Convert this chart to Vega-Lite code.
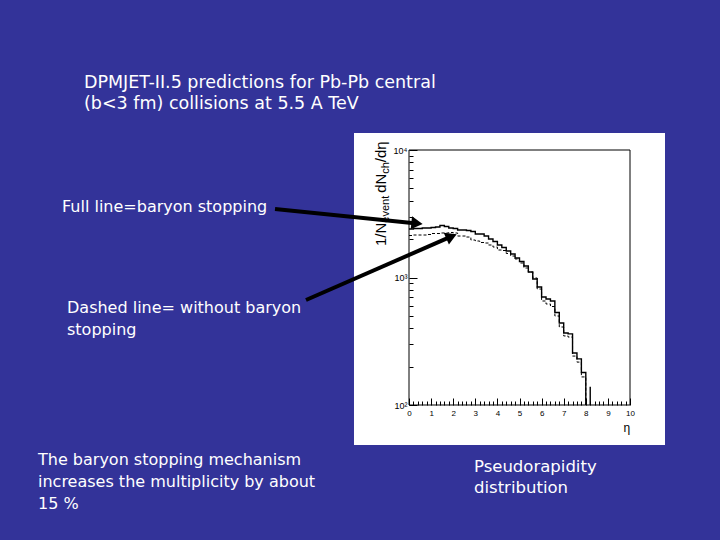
{
  "$schema": "https://vega.github.io/schema/vega-lite/v6.json",
  "width": 221,
  "height": 255,
  "autosize": "none",
  "padding": {"left": 409, "top": 150, "right": 90, "bottom": 135},
  "background": "#333399",
  "view": {"stroke": null, "fill": null},
  "config": {"font": "Liberation Sans"},
  "datasets": {
    "full": [
      {"i": 0, "eta": 0.0, "dndeta": 2401}, {"i": 1, "eta": 0.2, "dndeta": 2423}, {"i": 2, "eta": 0.4, "dndeta": 2423},
      {"i": 3, "eta": 0.6, "dndeta": 2445}, {"i": 4, "eta": 0.8, "dndeta": 2445}, {"i": 5, "eta": 1.0, "dndeta": 2467},
      {"i": 6, "eta": 1.2, "dndeta": 2489}, {"i": 7, "eta": 1.4, "dndeta": 2557}, {"i": 8, "eta": 1.6, "dndeta": 2512},
      {"i": 9, "eta": 1.8, "dndeta": 2445}, {"i": 10, "eta": 2.0, "dndeta": 2423}, {"i": 11, "eta": 2.2, "dndeta": 2358},
      {"i": 12, "eta": 2.4, "dndeta": 2358}, {"i": 13, "eta": 2.6, "dndeta": 2337}, {"i": 14, "eta": 2.8, "dndeta": 2296},
      {"i": 15, "eta": 3.0, "dndeta": 2193}, {"i": 16, "eta": 3.2, "dndeta": 2193}, {"i": 17, "eta": 3.4, "dndeta": 2115},
      {"i": 18, "eta": 3.6, "dndeta": 2004}, {"i": 19, "eta": 3.8, "dndeta": 1916}, {"i": 20, "eta": 4.0, "dndeta": 1798},
      {"i": 21, "eta": 4.2, "dndeta": 1719}, {"i": 22, "eta": 4.4, "dndeta": 1614}, {"i": 23, "eta": 4.6, "dndeta": 1529},
      {"i": 24, "eta": 4.8, "dndeta": 1422}, {"i": 25, "eta": 5.0, "dndeta": 1335}, {"i": 26, "eta": 5.2, "dndeta": 1231},
      {"i": 27, "eta": 5.4, "dndeta": 1104}, {"i": 28, "eta": 5.6, "dndeta": 973}, {"i": 29, "eta": 5.8, "dndeta": 842},
      {"i": 30, "eta": 6.0, "dndeta": 703}, {"i": 31, "eta": 6.2, "dndeta": 678}, {"i": 32, "eta": 6.4, "dndeta": 654},
      {"i": 33, "eta": 6.6, "dndeta": 531}, {"i": 34, "eta": 6.8, "dndeta": 440}, {"i": 35, "eta": 7.0, "dndeta": 367},
      {"i": 36, "eta": 7.2, "dndeta": 361}, {"i": 37, "eta": 7.4, "dndeta": 256}, {"i": 38, "eta": 7.6, "dndeta": 230},
      {"i": 39, "eta": 7.8, "dndeta": 180}, {"i": 40, "eta": 8.0, "dndeta": 50}, {"i": 41, "eta": 8.2, "dndeta": 139},
      {"i": 42, "eta": 8.2, "dndeta": 50}, {"i": 43, "eta": 8.4, "dndeta": 50}
    ],
    "dashed": [
      {"eta": 0.0, "dndeta": 2135}, {"eta": 0.2, "dndeta": 2154}, {"eta": 0.4, "dndeta": 2154}, {"eta": 0.6, "dndeta": 2154},
      {"eta": 0.8, "dndeta": 2174}, {"eta": 1.0, "dndeta": 2214}, {"eta": 1.2, "dndeta": 2214}, {"eta": 1.4, "dndeta": 2234},
      {"eta": 1.6, "dndeta": 2234}, {"eta": 1.8, "dndeta": 2254}, {"eta": 2.0, "dndeta": 2234}, {"eta": 2.2, "dndeta": 2115},
      {"eta": 2.4, "dndeta": 2115}, {"eta": 2.6, "dndeta": 2077}, {"eta": 2.8, "dndeta": 1968}, {"eta": 3.0, "dndeta": 1933},
      {"eta": 3.2, "dndeta": 1881}, {"eta": 3.4, "dndeta": 1864}, {"eta": 3.6, "dndeta": 1798}, {"eta": 3.8, "dndeta": 1734},
      {"eta": 4.0, "dndeta": 1643}, {"eta": 4.2, "dndeta": 1628}, {"eta": 4.4, "dndeta": 1543}, {"eta": 4.6, "dndeta": 1474},
      {"eta": 4.8, "dndeta": 1397}, {"eta": 5.0, "dndeta": 1299}, {"eta": 5.2, "dndeta": 1187}, {"eta": 5.4, "dndeta": 1104},
      {"eta": 5.6, "dndeta": 991}, {"eta": 5.8, "dndeta": 812}, {"eta": 6.0, "dndeta": 654}, {"eta": 6.2, "dndeta": 620},
      {"eta": 6.4, "dndeta": 592}, {"eta": 6.6, "dndeta": 499}, {"eta": 6.8, "dndeta": 409}, {"eta": 7.0, "dndeta": 348},
      {"eta": 7.2, "dndeta": 341}, {"eta": 7.4, "dndeta": 242}, {"eta": 7.6, "dndeta": 217}, {"eta": 7.8, "dndeta": 166},
      {"eta": 8.0, "dndeta": 50}, {"eta": 8.2, "dndeta": 50}
    ]
  },
  "layer": [
    {
      "data": {"values": [{}]},
      "mark": {"type": "rect", "fill": "white", "strokeWidth": 0},
      "encoding": {
        "x": {"datum": -2.489, "type": "quantitative", "scale": {"domain": [0, 10], "nice": false, "zero": false}, "axis": null},
        "x2": {"datum": 11.584},
        "y": {"datum": 13592, "type": "quantitative", "scale": {"type": "log", "domain": [100, 10000], "nice": false}, "axis": null},
        "y2": {"datum": 48.57}
      }
    },
    {
      "data": {"values": [{}]},
      "mark": {"type": "rect", "fillOpacity": 0, "stroke": "black", "strokeWidth": 1},
      "encoding": {
        "x": {"datum": 0, "type": "quantitative", "scale": {"domain": [0, 10], "nice": false, "zero": false}, "axis": null},
        "x2": {"datum": 10},
        "y": {"datum": 100, "type": "quantitative", "scale": {"type": "log", "domain": [100, 10000], "nice": false}, "axis": null},
        "y2": {"datum": 10000}
      }
    },
    {
      "data": {"name": "full"},
      "mark": {"type": "line", "interpolate": "step-after", "color": "black", "strokeWidth": 1.4, "clip": true},
      "encoding": {
        "x": {"field": "eta", "type": "quantitative", "scale": {"domain": [0, 10], "nice": false, "zero": false},
          "axis": {"orient": "bottom", "values": [0, 1, 2, 3, 4, 5, 6, 7, 8, 9, 10], "tickSize": -7, "labelPadding": 11, "domain": false, "grid": false, "title": null, "labelFont": "Liberation Sans", "labelFontSize": 8, "labelColor": "black", "tickColor": "black", "tickWidth": 1, "zindex": 1, "labelAngle": 0, "labelFlush": false, "labelOverlap": false, "format": "d"}},
        "y": {"field": "dndeta", "type": "quantitative", "scale": {"type": "log", "domain": [100, 10000], "nice": false},
          "axis": {"orient": "left", "values": [100, 1000, 10000], "tickSize": -8, "labelPadding": 10, "domain": false, "grid": false, "title": null, "labelExpr": "datum.value == 100 ? '10²' : datum.value == 1000 ? '10³' : '10⁴'", "labelFont": "Liberation Sans", "labelFontSize": 9, "labelColor": "black", "tickColor": "black", "tickWidth": 1, "zindex": 1, "labelFlush": false, "labelOverlap": false}},
        "order": {"field": "i"}
      }
    },
    {
      "data": {"name": "dashed"},
      "mark": {"type": "line", "interpolate": "step-after", "color": "black", "strokeWidth": 1, "strokeDash": [3, 2], "clip": true},
      "encoding": {
        "x": {"field": "eta", "type": "quantitative", "scale": {"domain": [0, 10], "nice": false, "zero": false},
          "axis": {"orient": "bottom", "values": [0.2, 0.4, 0.6, 0.8, 1.2, 1.4, 1.6, 1.8, 2.2, 2.4, 2.6, 2.8, 3.2, 3.4, 3.6, 3.8, 4.2, 4.4, 4.6, 4.8, 5.2, 5.4, 5.6, 5.8, 6.2, 6.4, 6.6, 6.8, 7.2, 7.4, 7.6, 7.8, 8.2, 8.4, 8.6, 8.8, 9.2, 9.4, 9.6, 9.8], "tickSize": -4, "labels": false, "domain": false, "grid": false, "title": null, "tickColor": "black", "tickWidth": 1, "zindex": 1}},
        "y": {"field": "dndeta", "type": "quantitative", "scale": {"type": "log", "domain": [100, 10000], "nice": false},
          "axis": {"orient": "left", "values": [200, 300, 400, 500, 600, 700, 800, 900, 2000, 3000, 4000, 5000, 6000, 7000, 8000, 9000], "tickSize": -4, "labels": false, "domain": false, "grid": false, "title": null, "tickColor": "black", "tickWidth": 1, "zindex": 1}}
      }
    },
    {
      "data": {"values": [{}]},
      "mark": {"type": "rule", "color": "black", "strokeWidth": 4},
      "encoding": {
        "x": {"datum": -6.063, "type": "quantitative", "scale": {"domain": [0, 10], "nice": false, "zero": false}, "axis": null},
        "x2": {"datum": 0.362},
        "y": {"datum": 3446, "type": "quantitative", "scale": {"type": "log", "domain": [100, 10000], "nice": false}, "axis": null},
        "y2": {"datum": 2657}
      }
    },
    {
      "data": {"values": [{}]},
      "mark": {"type": "rule", "color": "black", "strokeWidth": 4},
      "encoding": {
        "x": {"datum": -4.661, "type": "quantitative", "scale": {"domain": [0, 10], "nice": false, "zero": false}, "axis": null},
        "x2": {"datum": 1.923},
        "y": {"datum": 666, "type": "quantitative", "scale": {"type": "log", "domain": [100, 10000], "nice": false}, "axis": null},
        "y2": {"datum": 2101}
      }
    },
    {
      "data": {"values": [{}]},
      "mark": {"type": "point", "shape": "triangle-right", "filled": true, "color": "black", "opacity": 1, "size": 170, "angle": 5.8},
      "encoding": {
        "x": {"datum": 0.362, "type": "quantitative", "scale": {"domain": [0, 10], "nice": false, "zero": false}, "axis": null},
        "y": {"datum": 2657, "type": "quantitative", "scale": {"type": "log", "domain": [100, 10000], "nice": false}, "axis": null}
      }
    },
    {
      "data": {"values": [{}]},
      "mark": {"type": "point", "shape": "triangle-right", "filled": true, "color": "black", "opacity": 1, "size": 170, "angle": 336.4},
      "encoding": {
        "x": {"datum": 1.923, "type": "quantitative", "scale": {"domain": [0, 10], "nice": false, "zero": false}, "axis": null},
        "y": {"datum": 2101, "type": "quantitative", "scale": {"type": "log", "domain": [100, 10000], "nice": false}, "axis": null}
      }
    },
    {
      "data": {"values": [{}]},
      "mark": {"type": "text", "align": "left", "baseline": "alphabetic", "font": "DejaVu Sans", "fontSize": 17.5, "color": "white", "lineHeight": 21},
      "encoding": {
        "x": {"datum": -14.706, "type": "quantitative", "scale": {"domain": [0, 10], "nice": false, "zero": false}, "axis": null},
        "y": {"datum": 30370, "type": "quantitative", "scale": {"type": "log", "domain": [100, 10000], "nice": false}, "axis": null},
        "text": {"value": ["DPMJET-II.5 predictions for Pb-Pb central", "(b<3 fm) collisions at 5.5 A TeV"]}
      }
    },
    {
      "data": {"values": [{}]},
      "mark": {"type": "text", "align": "left", "baseline": "alphabetic", "font": "DejaVu Sans", "fontSize": 16, "color": "white"},
      "encoding": {
        "x": {"datum": -15.701, "type": "quantitative", "scale": {"domain": [0, 10], "nice": false, "zero": false}, "axis": null},
        "y": {"datum": 3264, "type": "quantitative", "scale": {"type": "log", "domain": [100, 10000], "nice": false}, "axis": null},
        "text": {"value": "Full line=baryon stopping"}
      }
    },
    {
      "data": {"values": [{}]},
      "mark": {"type": "text", "align": "left", "baseline": "alphabetic", "font": "DejaVu Sans", "fontSize": 16, "color": "white", "lineHeight": 22},
      "encoding": {
        "x": {"datum": -15.475, "type": "quantitative", "scale": {"domain": [0, 10], "nice": false, "zero": false}, "axis": null},
        "y": {"datum": 526.6, "type": "quantitative", "scale": {"type": "log", "domain": [100, 10000], "nice": false}, "axis": null},
        "text": {"value": ["Dashed line= without baryon", "stopping"]}
      }
    },
    {
      "data": {"values": [{}]},
      "mark": {"type": "text", "align": "left", "baseline": "alphabetic", "font": "DejaVu Sans", "fontSize": 16, "color": "white", "lineHeight": 22},
      "encoding": {
        "x": {"datum": -16.787, "type": "quantitative", "scale": {"domain": [0, 10], "nice": false, "zero": false}, "axis": null},
        "y": {"datum": 33.83, "type": "quantitative", "scale": {"type": "log", "domain": [100, 10000], "nice": false}, "axis": null},
        "text": {"value": ["The baryon stopping mechanism", "increases the multiplicity by about", "15 %"]}
      }
    },
    {
      "data": {"values": [{}]},
      "mark": {"type": "text", "align": "left", "baseline": "alphabetic", "font": "DejaVu Sans", "fontSize": 16.5, "color": "white", "lineHeight": 21},
      "encoding": {
        "x": {"datum": 2.941, "type": "quantitative", "scale": {"domain": [0, 10], "nice": false, "zero": false}, "axis": null},
        "y": {"datum": 29.82, "type": "quantitative", "scale": {"type": "log", "domain": [100, 10000], "nice": false}, "axis": null},
        "text": {"value": ["Pseudorapidity", "distribution"]}
      }
    },
    {
      "data": {"values": [{}]},
      "mark": {"type": "text", "align": "left", "baseline": "alphabetic", "font": "Liberation Sans", "fontSize": 15, "color": "black", "angle": 270},
      "encoding": {
        "x": {"datum": -1.041, "type": "quantitative", "scale": {"domain": [0, 10], "nice": false, "zero": false}, "axis": null},
        "y": {"datum": 1767, "type": "quantitative", "scale": {"type": "log", "domain": [100, 10000], "nice": false}, "axis": null},
        "text": {"value": "1/N"}
      }
    },
    {
      "data": {"values": [{}]},
      "mark": {"type": "text", "align": "left", "baseline": "alphabetic", "font": "Liberation Sans", "fontSize": 11, "color": "black", "angle": 270},
      "encoding": {
        "x": {"datum": -0.905, "type": "quantitative", "scale": {"domain": [0, 10], "nice": false, "zero": false}, "axis": null},
        "y": {"datum": 2690, "type": "quantitative", "scale": {"type": "log", "domain": [100, 10000], "nice": false}, "axis": null},
        "text": {"value": "event"}
      }
    },
    {
      "data": {"values": [{}]},
      "mark": {"type": "text", "align": "left", "baseline": "alphabetic", "font": "Liberation Sans", "fontSize": 15, "color": "black", "angle": 270},
      "encoding": {
        "x": {"datum": -1.041, "type": "quantitative", "scale": {"domain": [0, 10], "nice": false, "zero": false}, "axis": null},
        "y": {"datum": 4616, "type": "quantitative", "scale": {"type": "log", "domain": [100, 10000], "nice": false}, "axis": null},
        "text": {"value": "dN"}
      }
    },
    {
      "data": {"values": [{}]},
      "mark": {"type": "text", "align": "left", "baseline": "alphabetic", "font": "Liberation Sans", "fontSize": 11, "color": "black", "angle": 270},
      "encoding": {
        "x": {"datum": -0.905, "type": "quantitative", "scale": {"domain": [0, 10], "nice": false, "zero": false}, "axis": null},
        "y": {"datum": 6507, "type": "quantitative", "scale": {"type": "log", "domain": [100, 10000], "nice": false}, "axis": null},
        "text": {"value": "ch"}
      }
    },
    {
      "data": {"values": [{}]},
      "mark": {"type": "text", "align": "left", "baseline": "alphabetic", "font": "Liberation Sans", "fontSize": 15, "color": "black", "angle": 270},
      "encoding": {
        "x": {"datum": -1.041, "type": "quantitative", "scale": {"domain": [0, 10], "nice": false, "zero": false}, "axis": null},
        "y": {"datum": 8022, "type": "quantitative", "scale": {"type": "log", "domain": [100, 10000], "nice": false}, "axis": null},
        "text": {"value": "/dη"}
      }
    },
    {
      "data": {"values": [{}]},
      "mark": {"type": "text", "align": "center", "baseline": "alphabetic", "font": "Liberation Sans", "fontSize": 12, "color": "black"},
      "encoding": {
        "x": {"datum": 9.86, "type": "quantitative", "scale": {"domain": [0, 10], "nice": false, "zero": false}, "axis": null},
        "y": {"datum": 61.5, "type": "quantitative", "scale": {"type": "log", "domain": [100, 10000], "nice": false}, "axis": null},
        "text": {"value": "η"}
      }
    }
  ],
  "resolve": {"axis": {"x": "independent", "y": "independent"}}
}
